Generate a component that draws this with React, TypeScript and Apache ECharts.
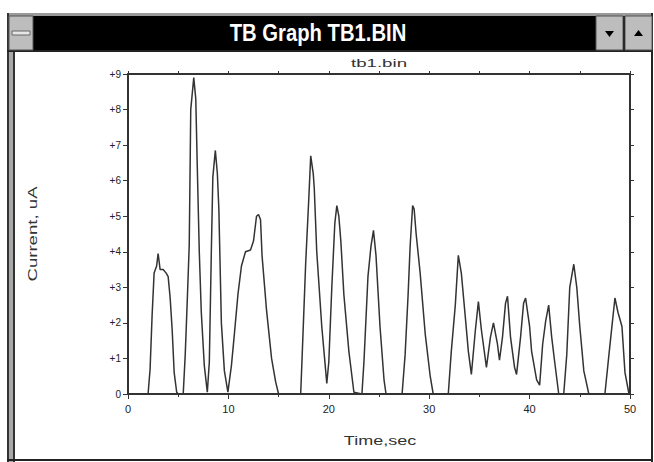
import React, { useEffect, useRef } from "react";
import * as echarts from "echarts";

const windowTitle = "TB Graph TB1.BIN";
const chartTitle = "tb1.bin";
const xAxisName = "Time,sec";
const yAxisName = "Current, uA";
const yTickLabels = ["0", "+1", "+2", "+3", "+4", "+5", "+6", "+7", "+8", "+9"];

const times = [
  0, 2.0, 2.2, 2.4, 2.6, 2.85, 3.0, 3.2, 3.5, 3.8, 4.0, 4.2, 4.4, 4.6, 4.85, 5.0, 5.5, 5.7, 5.9, 6.1,
  6.25, 6.55, 6.75, 6.9, 7.1, 7.3, 7.6, 7.9, 8.1, 8.3, 8.45, 8.7, 8.9, 9.05, 9.3, 9.6, 9.95, 10.3, 10.6, 10.95,
  11.3, 11.7, 12.2, 12.5, 12.8, 13.0, 13.2, 13.35, 13.8, 14.3, 14.7, 15.0, 17.2, 17.35, 17.7, 18.0, 18.2, 18.45, 18.55, 18.8,
  19.3, 19.8, 20.0, 20.3, 20.6, 20.8, 21.0, 21.2, 21.5, 22.0, 22.5, 23.3, 23.5, 23.9, 24.2, 24.45, 24.7, 25.1, 25.5, 25.7,
  27.3, 27.6, 27.9, 28.1, 28.35, 28.5, 28.7, 29.1, 29.6, 30.1, 30.4, 31.9, 32.2, 32.6, 32.9, 33.2, 33.6, 33.9, 34.2, 34.6,
  34.9, 35.2, 35.7, 36.1, 36.4, 36.8, 37.0, 37.3, 37.6, 37.8, 38.1, 38.5, 38.7, 39.1, 39.4, 39.6, 40.0, 40.2, 40.7, 41.0,
  41.3, 41.6, 41.9, 42.2, 42.5, 42.9, 43.4, 43.7, 44.0, 44.4, 44.7, 45.0, 45.4, 45.9, 47.5, 47.9, 48.2, 48.5, 48.8, 49.2,
  49.5, 49.9, 50,
];

const currents = [
  0, 0, 0.7, 2.2, 3.4, 3.6, 3.95, 3.5, 3.5, 3.4, 3.3, 2.7, 1.8, 0.6, 0.05, 0, 0, 1.1, 2.6, 4.2,
  8.0, 8.9, 8.3, 6.4, 4.0, 2.3, 0.8, 0.05, 0.9, 4.0, 6.1, 6.85, 6.2, 5.2, 2.0, 0.65, 0.05, 0.8, 1.7, 2.8,
  3.6, 4.0, 4.05, 4.3, 5.0, 5.05, 4.9, 3.9, 2.35, 1.0, 0.35, 0, 0, 1.1, 3.7, 5.45, 6.7, 6.2, 5.8, 4.0,
  1.9, 0.3, 0.9, 3.0, 4.8, 5.3, 5.0, 4.3, 2.8, 1.2, 0.05, 0, 0.9, 3.3, 4.15, 4.6, 3.9, 1.9, 0.4, 0,
  0, 1.1, 2.8, 4.15, 5.3, 5.2, 4.5, 3.4, 1.7, 0.5, 0, 0, 1.2, 2.5, 3.9, 3.4, 2.15, 1.2, 0.55, 1.8,
  2.6, 1.8, 0.75, 1.6, 2.0, 1.4, 0.95, 1.6, 2.55, 2.75, 1.6, 0.75, 0.55, 1.6, 2.55, 2.7, 1.9, 1.2, 0.4, 0.25,
  1.4, 2.05, 2.5, 1.6, 0.9, 0, 0, 1.1, 3.0, 3.65, 3.0, 1.9, 0.65, 0, 0, 1.1, 1.9, 2.7, 2.3, 1.9,
  0.6, 0, 0,
];

const FONT = "'Liberation Sans', Arial, sans-serif";
const INK = "#333333";

export default function App() {
  const ref = useRef<HTMLDivElement>(null);

  useEffect(() => {
    if (!ref.current) return;
    const chart = echarts.init(ref.current, undefined, { renderer: "svg" });
    const data = times.map((t, i) => [t, currents[i]]);

    const axisLine = { show: true, onZero: false, lineStyle: { color: INK, width: 2 } };

    chart.setOption({
      animation: false,
      backgroundColor: "#ffffff",
      grid: { left: 128, top: 74, width: 502, height: 320 },
      xAxis: [
        {
          type: "value",
          min: 0,
          max: 50,
          interval: 10,
          position: "bottom",
          axisLine,
          axisTick: { show: true, length: 5, lineStyle: { color: INK, width: 1 } },
          minorTick: { show: true, splitNumber: 2, length: 3, lineStyle: { color: INK, width: 1 } },
          axisLabel: { fontSize: 11, color: "#222222", margin: 9, fontFamily: FONT },
          splitLine: { show: false },
        },
        {
          type: "value",
          min: 0,
          max: 50,
          interval: 5,
          position: "top",
          axisLine,
          axisTick: { show: true, length: 3, lineStyle: { color: INK, width: 1 } },
          axisLabel: { show: false },
          splitLine: { show: false },
        },
      ],
      yAxis: [
        {
          type: "value",
          min: 0,
          max: 9,
          interval: 1,
          position: "left",
          axisLine,
          axisTick: { show: true, length: 5, lineStyle: { color: INK, width: 1 } },
          axisLabel: {
            fontSize: 10,
            color: "#222222",
            margin: 7,
            fontFamily: FONT,
            formatter: (v: number) => yTickLabels[Math.round(v)] ?? String(v),
          },
          splitLine: { show: false },
        },
        {
          type: "value",
          min: 0,
          max: 9,
          interval: 1,
          position: "right",
          axisLine,
          axisTick: { show: true, length: 4, lineStyle: { color: INK, width: 1 } },
          axisLabel: { show: false },
          splitLine: { show: false },
        },
      ],
      series: [
        {
          type: "line",
          xAxisIndex: 0,
          yAxisIndex: 0,
          data,
          showSymbol: false,
          symbol: "none",
          lineStyle: { color: "#333333", width: 1.5 },
        },
      ],
      graphic: [
        // window frame
        { type: "rect", shape: { x: 7, y: 13, width: 646, height: 38 }, style: { fill: "#000000" } },
        { type: "rect", shape: { x: 7, y: 13, width: 646, height: 3 }, style: { fill: "#9a9a9a" } },
        { type: "rect", shape: { x: 7, y: 51, width: 8, height: 411 }, style: { fill: "#a8a8a8" } },
        { type: "line", shape: { x1: 8, y1: 13, x2: 8, y2: 462 }, style: { stroke: "#333333", lineWidth: 2 } },
        { type: "line", shape: { x1: 14, y1: 51, x2: 14, y2: 462 }, style: { stroke: "#333333", lineWidth: 2 } },
        { type: "line", shape: { x1: 652, y1: 13, x2: 652, y2: 462 }, style: { stroke: "#222222", lineWidth: 2 } },
        { type: "line", shape: { x1: 7, y1: 460, x2: 653, y2: 460 }, style: { stroke: "#222222", lineWidth: 2 } },
        { type: "line", shape: { x1: 7, y1: 51, x2: 653, y2: 51 }, style: { stroke: "#222222", lineWidth: 2 } },
        // system menu button
        { type: "rect", shape: { x: 9, y: 16, width: 24, height: 34 }, style: { fill: "#bdbdbd", stroke: "#555555", lineWidth: 1 } },
        { type: "rect", shape: { x: 12, y: 31, width: 18, height: 4 }, style: { fill: "#e6e6e6", stroke: "#666666", lineWidth: 1 } },
        // min / max buttons
        { type: "rect", shape: { x: 596, y: 16, width: 27, height: 34 }, style: { fill: "#bdbdbd", stroke: "#555555", lineWidth: 1 } },
        { type: "rect", shape: { x: 625, y: 16, width: 27, height: 34 }, style: { fill: "#bdbdbd", stroke: "#555555", lineWidth: 1 } },
        { type: "polygon", shape: { points: [[605, 31], [614, 31], [609.5, 37]] }, style: { fill: "#000000" } },
        { type: "polygon", shape: { points: [[634, 36], [643, 36], [638.5, 30]] }, style: { fill: "#000000" } },
        // window title
        {
          type: "text",
          x: 318,
          y: 33,
          scaleX: 0.88,
          style: {
            text: windowTitle,
            fill: "#ffffff",
            font: "bold 23px 'Liberation Sans', sans-serif",
            textAlign: "center",
            textVerticalAlign: "middle",
          },
        },
        // chart title
        {
          type: "text",
          x: 379,
          y: 63,
          scaleX: 1.7,
          style: {
            text: chartTitle,
            fill: INK,
            font: `11px ${FONT}`,
            textAlign: "center",
            textVerticalAlign: "middle",
          },
        },
        // x axis name
        {
          type: "text",
          x: 380,
          y: 441,
          scaleX: 1.5,
          style: {
            text: xAxisName,
            fill: INK,
            font: `12px ${FONT}`,
            textAlign: "center",
            textVerticalAlign: "middle",
          },
        },
        // y axis name
        {
          type: "text",
          x: 33,
          y: 234,
          rotation: Math.PI / 2,
          scaleX: 1.55,
          style: {
            text: yAxisName,
            fill: INK,
            font: `12px ${FONT}`,
            textAlign: "center",
            textVerticalAlign: "middle",
          },
        },
      ],
    });

    return () => chart.dispose();
  }, []);

  return (
    <div
      ref={ref}
      style={{ position: "absolute", left: 0, top: 0, width: 654, height: 462 }}
    />
  );
}
